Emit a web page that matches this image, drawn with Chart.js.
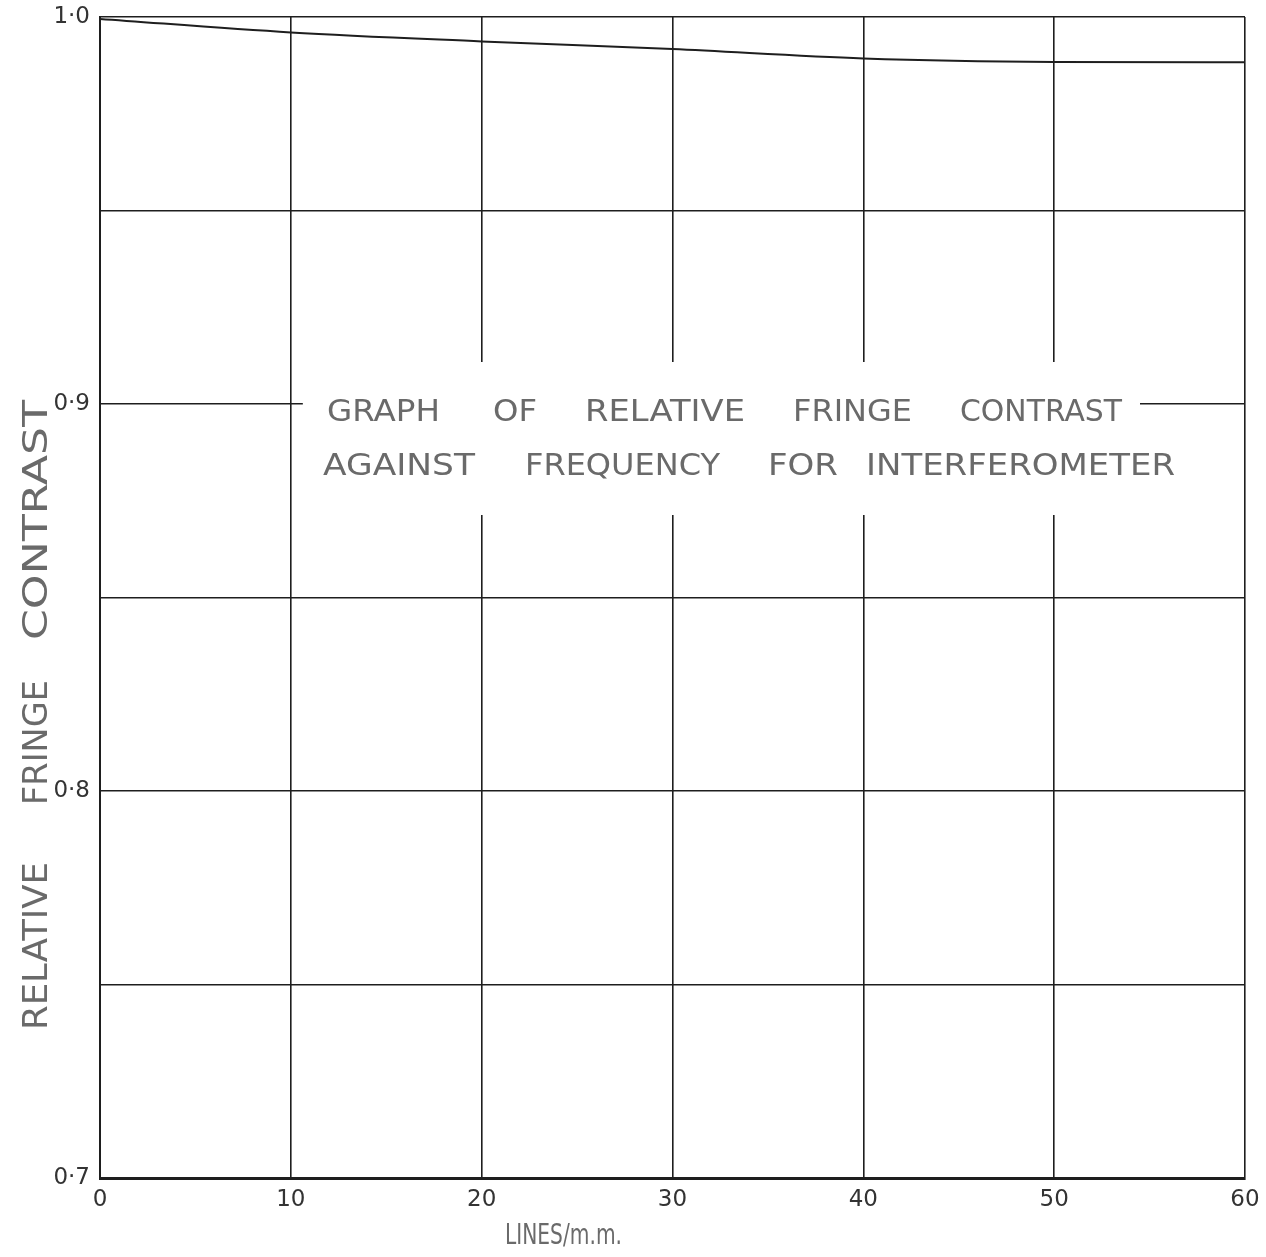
<!DOCTYPE html>
<html>
<head>
<meta charset="utf-8">
<title>Relative fringe contrast against frequency</title>
<script src="https://cdn.jsdelivr.net/npm/chart.js@4/dist/chart.umd.min.js"></script>
<style>
  html, body { margin: 0; padding: 0; background: #ffffff; }
  #wrap { width: 1266px; height: 1257px; }
</style>
</head>
<body>
<div id="wrap"><canvas id="c" width="1266" height="1257"></canvas></div>
<script>
// Spatial frequency (lines/mm) and measured relative fringe contrast
const frequency = [0, 10, 20, 30, 40, 50, 60];
const contrast  = [0.9995, 0.996, 0.9937, 0.9917, 0.9893, 0.9884, 0.9883];

// Axis ranges and labelled ticks
const xTicks = [0, 10, 20, 30, 40, 50, 60];
const yLabelled = { "1.00": "1·0", "0.90": "0·9", "0.80": "0·8", "0.70": "0·7" };

const titleLines = [
  ["GRAPH", "OF", "RELATIVE", "FRINGE", "CONTRAST"],
  ["AGAINST", "FREQUENCY", "FOR", "INTERFEROMETER"]
];
const yTitleWords = ["RELATIVE", "FRINGE", "CONTRAST"];
const xTitle = "LINES/m.m.";

const INK = "#1e1e1e";
const PENCIL = "#6a6a6a";

// word layout for the caption inside the plot (x start, x end) in canvas px
const titleLayout = [
  { y: 413, words: [[327, 440], [493, 537], [585, 745], [793, 912], [960, 1122]] },
  { y: 467, words: [[323, 475], [525, 720], [768, 838], [866, 1175]] }
];
// rotated axis title word spans (bottom, top) in canvas px
const yTitleLayout = { x: 38, words: [[1030, 862], [805, 680], [640, 400]] };

function drawStretched(ctx, text, x0, x1, y) {
  const w = ctx.measureText(text).width;
  ctx.save();
  ctx.translate(x0, y);
  ctx.scale((x1 - x0) / w, 1);
  ctx.fillText(text, 0, 0);
  ctx.restore();
}

const captionPlugin = {
  id: "caption",
  beforeDatasetsDraw(chart) {
    const ctx = chart.ctx;
    const xs = chart.scales.x, ys = chart.scales.y;
    // clear the grid behind the caption block
    ctx.save();
    ctx.fillStyle = "#ffffff";
    const left = xs.getPixelForValue(10) + 12;
    const right = xs.getPixelForValue(60) - 105;
    const top = ys.getPixelForValue(0.9) - 42;
    const bottom = ys.getPixelForValue(0.9) + 111;
    ctx.fillRect(left, top, right - left, bottom - top);
    ctx.restore();

    ctx.save();
    ctx.fillStyle = PENCIL;
    ctx.textBaseline = "middle";
    ctx.font = "30px 'DejaVu Sans'";
    titleLines.forEach((line, li) => {
      const lay = titleLayout[li];
      line.forEach((word, wi) => {
        drawStretched(ctx, word, lay.words[wi][0], lay.words[wi][1], lay.y);
      });
    });
    ctx.restore();
  },
  afterDraw(chart) {
    const ctx = chart.ctx;
    // vertical axis title
    ctx.save();
    ctx.fillStyle = PENCIL;
    ctx.textBaseline = "middle";
    ctx.font = "34px 'DejaVu Sans'";
    ctx.translate(yTitleLayout.x, 0);
    ctx.rotate(-Math.PI / 2);
    yTitleWords.forEach((word, i) => {
      const [b, t] = yTitleLayout.words[i];
      drawStretched(ctx, word, -b, -t, 0);
    });
    ctx.restore();

    // horizontal axis title
    ctx.save();
    ctx.fillStyle = PENCIL;
    ctx.textBaseline = "middle";
    ctx.font = "28px 'DejaVu Sans'";
    drawStretched(ctx, xTitle, 505, 622, 1237);
    ctx.restore();
  }
};

new Chart(document.getElementById("c"), {
  type: "line",
  data: {
    datasets: [{
      data: frequency.map((f, i) => ({ x: f, y: contrast[i] })),
      borderColor: INK,
      borderWidth: 2,
      pointRadius: 0,
      cubicInterpolationMode: "monotone",
      fill: false
    }]
  },
  options: {
    responsive: false,
    animation: false,
    layout: { padding: { top: 17, right: 21, left: 0, bottom: 0 } },
    plugins: {
      legend: { display: false },
      tooltip: { enabled: false },
      title: { display: false }
    },
    scales: {
      x: {
        type: "linear",
        min: 0,
        max: 60,
        afterBuildTicks: s => { s.ticks = xTicks.map(v => ({ value: v })); },
        afterFit: s => { s.height = 79; s.paddingLeft = 0; s.paddingRight = 0; },
        grid: { color: INK, lineWidth: 1.6, drawTicks: false },
        border: { color: INK, width: 3 },
        ticks: {
          color: "#333",
          padding: 8,
          font: { family: "'DejaVu Sans'", size: 23 },
          maxRotation: 0,
          callback: v => String(v)
        }
      },
      y: {
        type: "linear",
        min: 0.7,
        max: 1.0,
        afterBuildTicks: s => {
          const t = [];
          for (let i = 0; i <= 6; i++) t.push({ value: +(0.7 + i * 0.05).toFixed(2) });
          s.ticks = t;
        },
        afterFit: s => { s.width = 100; s.paddingTop = 0; s.paddingBottom = 0; },
        grid: { color: INK, lineWidth: 1.6, drawTicks: false },
        border: { color: INK, width: 2 },
        ticks: {
          color: "#333",
          padding: 10,
          font: { family: "'DejaVu Sans'", size: 23 },
          callback: v => yLabelled[Number(v).toFixed(2)] || ""
        }
      }
    }
  },
  plugins: [captionPlugin]
});
</script>
</body>
</html>
